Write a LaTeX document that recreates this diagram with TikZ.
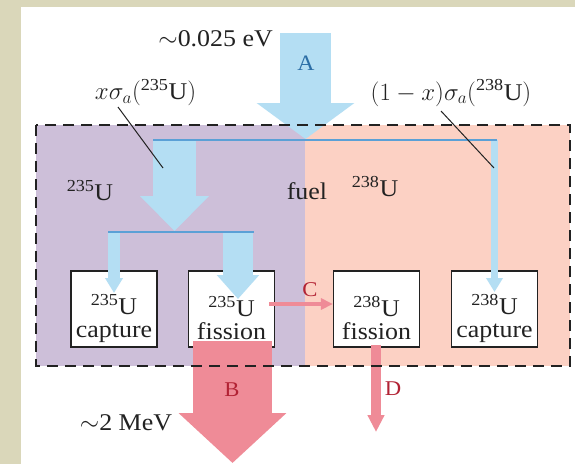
\documentclass[tikz,border=0pt]{standalone}
\usepackage{fontspec}
\setmainfont[FakeStretch=1.08]{Liberation Serif}
\usetikzlibrary{arrows.meta}
\definecolor{beige}{HTML}{DAD7BA}
\definecolor{purp}{HTML}{CDBFD9}
\definecolor{salm}{HTML}{FCD1C4}
\definecolor{lblue}{HTML}{B4DEF3}
\definecolor{dblue}{HTML}{5BA0D6}
\definecolor{pinkr}{HTML}{EF8B97}
\definecolor{redlab}{HTML}{B22234}
\definecolor{bluelab}{HTML}{2C6EA6}
\definecolor{txt}{HTML}{222222}
\tikzset{
  ubox/.style={draw=txt, line width=1.2pt, fill=white, minimum width=86pt, minimum height=76pt, inner sep=0pt},
  btext/.style={align=center, inner sep=0pt, text=txt, font=\fontsize{24}{23}\selectfont},
  lab/.style={inner sep=0pt, text=txt, font=\fontsize{24}{26}\selectfont},
  letb/.style={inner sep=0pt, text=bluelab, font=\fontsize{22}{24}\selectfont},
  letr/.style={inner sep=0pt, text=redlab, font=\fontsize{21}{24}\selectfont},
  barrow/.style={draw=lblue},
  parrow/.style={draw=pinkr},
  bline/.style={draw=dblue, line width=2pt},
  leader/.style={draw=txt, line width=1pt},
}
\begin{document}
\begin{tikzpicture}[x=1pt,y=-1pt]
\useasboundingbox (0,0) rectangle (575,464);
\fill[beige] (0,0) rectangle (575,464);
\fill[white] (21,7) rectangle (575,464);
% regions
\fill[purp] (36,125) rectangle (305,366);
\fill[salm] (305,125) rectangle (570,366);
% boxes
\node[ubox] (b1) at (114,309) {};
\node[ubox] (b2) at (231.5,309) {};
\node[ubox] (b3) at (376.5,309) {};
\node[ubox] (b4) at (494.5,309) {};
% coordinates
\coordinate (atop) at (305.5,33);
\coordinate (atip) at (305.5,139);
\coordinate (l1a) at (153,140);
\coordinate (l1b) at (497,140);
\coordinate (ltop) at (174.5,140);
\coordinate (ltip) at (174.5,231);
\coordinate (l2a) at (108,232);
\coordinate (l2b) at (254,232);
\coordinate (c1top) at (114,232);
\coordinate (c2top) at (238,232);
\coordinate (c4top) at (494.5,140);
% blue arrows
\draw[barrow, line width=51pt, -{Triangle[length=36pt,width=96pt]}] (atop) -- (atip);
\draw[barrow, line width=43pt, -{Triangle[length=35pt,width=67pt]}] (ltop) -- (ltip);
\draw[barrow, line width=12pt, -{Triangle[length=15pt,width=17pt]}] (c1top) -- (b1.north |- 0,293);
\draw[barrow, line width=30pt, -{Triangle[length=24pt,width=41pt]}] (c2top) -- (238,299);
\draw[barrow, line width=6.5pt, -{Triangle[length=14pt,width=16pt]}] (c4top) -- (b4.north |- 0,292);
\draw[bline] (l1a) -- (l1b);
\draw[bline] (l2a) -- (l2b);
% pink arrows
\coordinate (btop) at (232.5,341);
\coordinate (btip) at (232.5,463);
\draw[parrow, line width=79pt, -{Triangle[length=50pt,width=105pt]}] (btop) -- (btip);
\coordinate (cst) at (269,304);
\draw[parrow, line width=3.5pt, -{Triangle[length=12pt,width=11pt]}] (cst) -- (b3.west |- cst);
\coordinate (dtip) at (376,432);
\draw[parrow, line width=10pt, -{Triangle[length=17pt,width=16pt]}] (376,345) -- (dtip);
% dashed border
\draw[txt, line width=1.5pt, dash pattern=on 11pt off 7pt] (36,125) rectangle (570,366);
% labels
\node[lab, anchor=east] (ev) at (273,39) {$\sim$0.025 eV};
\node[lab] (s235) at (145.5,93) {$x\sigma_a($\textsuperscript{235}U$)$};
\node[lab] (s238) at (451,93) {$(1-x)\sigma_a($\textsuperscript{238}U$)$};
\coordinate (ld1) at (163,168);
\coordinate (ld2) at (494,168);
\draw[leader] (118,107) -- (ld1);
\draw[leader] (441,111) -- (ld2);
\node[letb] (la) at (306,63) {A};
\node[lab] (u235) at (90,191) {\textsuperscript{235}U};
\node[lab] (fuel) at (307,191) {fuel};
\node[lab] (u238) at (375,187) {\textsuperscript{238}U};
\node[btext] (t1) at (114,318) {\textsuperscript{235}U\\capture};
\node[btext] (t2) at (231.5,318) {\textsuperscript{235}U\\fission};
\node[btext] (t3) at (376.5,318) {\textsuperscript{238}U\\fission};
\node[btext] (t4) at (494.5,318) {\textsuperscript{238}U\\capture};
\node[letr] (lb) at (232,390) {B};
\node[letr] (lc) at (310,290) {C};
\node[letr] (ld) at (393,389) {D};
\node[lab] (mev) at (126,423) {$\sim$2 MeV};
\end{tikzpicture}
\end{document}
